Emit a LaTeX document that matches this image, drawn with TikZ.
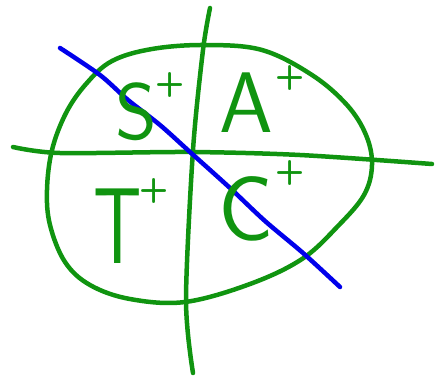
\documentclass[tikz,border=0pt]{standalone}
\usepackage{fontspec}
\definecolor{pen}{RGB}{16,148,16}
\definecolor{ink}{RGB}{0,0,235}
\begin{document}
\begin{tikzpicture}[x=1pt,y=-1pt,
  stroke/.style={line width=4.5pt,line cap=round,line join=round},
  letter/.style={text=pen,inner sep=0pt,font=\sffamily\fontsize{#1}{#1}\selectfont},
  plussign/.style={text=pen,inner sep=0pt,font=\sffamily\bfseries\fontsize{34}{34}\selectfont}]
\useasboundingbox (0,0) rectangle (437,378);
% ellipse-like loop
\draw[stroke,pen] plot[smooth cycle,tension=0.6] coordinates {
 (205,45) (262,50) (312,75) (347,105) (366,135) (372,165) (364,195) (338,226)
 (302,259) (250,284) (185,302) (130,299) (90,285) (65,262) (50,225) (47,190)
 (52,150) (66,113) (86,84) (112,61) (152,49)};
% horizontal axis
\draw[stroke,pen] plot[smooth,tension=0.5] coordinates {(13,147) (60,153) (190,152) (300,155) (432,164)};
% vertical axis
\draw[stroke,pen] plot[smooth,tension=0.5] coordinates {(210,8) (203,50) (193,150) (186,300) (193,373)};
% blue line
\draw[stroke,ink] plot[smooth,tension=0.5] coordinates {(60,48) (100,75) (128,100) (160,125) (190,152) (230,188) (265,221) (303,253) (340,287)};
% labels
\node[letter=80] (S) at (136,112) {S};
\node[plussign] (Sp) at (170,85) {+};
\node[letter=86] (A) at (246,103) {A};
\node[plussign] (Ap) at (290,78) {+};
\node[letter=108] (T) at (118,226) {\scalebox{0.7}[1]{T}};
\node[plussign] (Tp) at (154,191) {+};
\node[letter=92] (C) at (246,209) {C};
\node[plussign] (Cp) at (290,173) {+};
\end{tikzpicture}
\end{document}
